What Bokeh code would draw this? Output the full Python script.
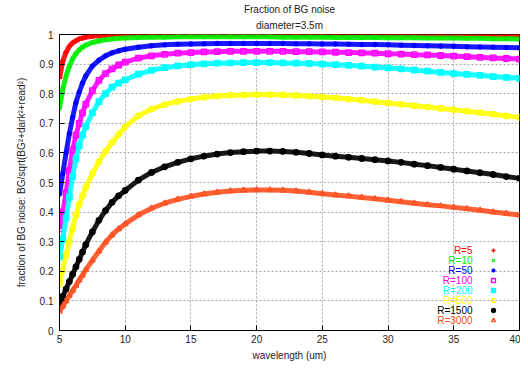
from bokeh.plotting import figure
from bokeh.models import (ColumnDataSource, FixedTicker, Title, Label, Legend, LegendItem, Range1d)
from bokeh.embed import file_html
from bokeh.resources import INLINE

# ---- data ----
wavelength = [5, 5.25, 5.5, 5.75, 6, 6.25, 6.5, 6.75, 7, 7.5, 8, 8.5, 9, 9.5, 10,
              11, 12, 13, 14, 15, 16, 17, 18, 19, 20,
              21, 22, 23, 24, 25, 26, 27, 28, 29, 30,
              31, 32, 33, 34, 35, 36, 37, 38, 39, 40]

r5 = [0.852, 0.910, 0.940, 0.960, 0.972, 0.979, 0.985, 0.988, 0.991, 0.994, 0.996, 0.997, 0.998, 0.998, 0.999,
      0.999, 0.999, 0.999, 0.999, 0.999, 0.999, 0.999, 0.999, 0.999, 0.999,
      0.999, 0.999, 0.999, 0.999, 0.999, 0.999, 0.998, 0.998, 0.998, 0.998,
      0.998, 0.998, 0.998, 0.998, 0.997, 0.997, 0.997, 0.997, 0.997, 0.997]
r10 = [0.750, 0.815, 0.860, 0.893, 0.918, 0.935, 0.948, 0.957, 0.964, 0.973, 0.978, 0.982, 0.985, 0.987, 0.988,
       0.990, 0.991, 0.991, 0.992, 0.992, 0.992, 0.992, 0.992, 0.992, 0.992,
       0.992, 0.991, 0.991, 0.991, 0.991, 0.990, 0.990, 0.990, 0.990, 0.989,
       0.989, 0.989, 0.988, 0.988, 0.988, 0.987, 0.987, 0.986, 0.986, 0.985]
r50 = [0.460, 0.530, 0.600, 0.665, 0.720, 0.770, 0.805, 0.836, 0.860, 0.893, 0.913, 0.928, 0.938, 0.945, 0.950,
       0.957, 0.962, 0.965, 0.967, 0.968, 0.969, 0.970, 0.970, 0.970, 0.970,
       0.970, 0.970, 0.969, 0.969, 0.968, 0.968, 0.967, 0.966, 0.966, 0.965,
       0.964, 0.963, 0.962, 0.961, 0.960, 0.959, 0.958, 0.957, 0.956, 0.955]
r100 = [0.343, 0.400, 0.465, 0.540, 0.610, 0.660, 0.700, 0.735, 0.765, 0.810, 0.845, 0.868, 0.884, 0.897, 0.907,
        0.920, 0.928, 0.933, 0.937, 0.939, 0.941, 0.942, 0.943, 0.943, 0.943,
        0.943, 0.943, 0.942, 0.942, 0.941, 0.940, 0.939, 0.938, 0.937, 0.935,
        0.934, 0.932, 0.931, 0.929, 0.927, 0.925, 0.923, 0.921, 0.919, 0.917]
r200 = [0.248, 0.310, 0.380, 0.450, 0.520, 0.580, 0.625, 0.660, 0.690, 0.735, 0.773, 0.800, 0.822, 0.836, 0.847,
        0.866, 0.879, 0.888, 0.894, 0.898, 0.901, 0.903, 0.904, 0.905, 0.905,
        0.905, 0.904, 0.903, 0.902, 0.900, 0.898, 0.896, 0.893, 0.890, 0.887,
        0.884, 0.880, 0.876, 0.872, 0.868, 0.865, 0.862, 0.858, 0.855, 0.852]
r500 = [0.158, 0.205, 0.255, 0.300, 0.345, 0.390, 0.425, 0.455, 0.483, 0.530, 0.570, 0.605, 0.635, 0.662, 0.688,
        0.725, 0.748, 0.763, 0.774, 0.782, 0.788, 0.792, 0.795, 0.796, 0.797,
        0.797, 0.796, 0.794, 0.792, 0.789, 0.786, 0.782, 0.778, 0.773, 0.768,
        0.764, 0.759, 0.755, 0.750, 0.746, 0.741, 0.736, 0.731, 0.725, 0.720]
r1500 = [0.091, 0.115, 0.140, 0.165, 0.190, 0.215, 0.240, 0.265, 0.290, 0.333, 0.372, 0.405, 0.433, 0.455, 0.473,
         0.508, 0.534, 0.553, 0.568, 0.580, 0.589, 0.596, 0.601, 0.604, 0.606,
         0.606, 0.605, 0.602, 0.598, 0.593, 0.589, 0.585, 0.581, 0.577, 0.573,
         0.568, 0.562, 0.557, 0.551, 0.545, 0.539, 0.533, 0.527, 0.520, 0.514]
r3000 = [0.064, 0.082, 0.100, 0.118, 0.135, 0.152, 0.170, 0.187, 0.205, 0.237, 0.268, 0.298, 0.323, 0.343, 0.360,
         0.390, 0.413, 0.430, 0.443, 0.453, 0.461, 0.467, 0.471, 0.474, 0.475,
         0.475, 0.474, 0.471, 0.467, 0.462, 0.458, 0.454, 0.449, 0.445, 0.440,
         0.435, 0.430, 0.425, 0.421, 0.416, 0.411, 0.406, 0.400, 0.395, 0.390]

series_names = ["R=5", "R=10", "R=50", "R=100", "R=200", "R=500", "R=1500", "R=3000"]
series_values = [r5, r10, r50, r100, r200, r500, r1500, r3000]
series_colors = ["#ff0000", "#00ee00", "#0000ff", "#ff00ff", "#00ffff", "#ffff00", "#000000", "#ff5020"]
series_markers = ["cross", "x", "asterisk", "square", "square", "circle", "circle", "triangle"]
series_filled = [False, False, False, False, True, False, True, False]

x_ticks = [5, 10, 15, 20, 25, 30, 35, 40]
y_ticks = [0, 0.1, 0.2, 0.3, 0.4, 0.5, 0.6, 0.7, 0.8, 0.9, 1]
y_tick_labels = ["0", "0.1", "0.2", "0.3", "0.4", "0.5", "0.6", "0.7", "0.8", "0.9", "1"]

FONT = "Liberation Sans"
TXT = "#222222"

p = figure(width=520, height=363, output_backend="svg", toolbar_location=None,
           x_range=Range1d(5, 40), y_range=Range1d(0, 1), title=None,
           min_border_left=59, min_border_right=1, min_border_top=34, min_border_bottom=31)

p.add_layout(Title(text="diameter=3.5m", align="center", text_font_size="10px",
                   text_font=FONT, text_font_style="normal", text_color=TXT, offset=0,
                   standoff=7), "above")
p.add_layout(Title(text="Fraction of BG noise", align="center", text_font_size="10px",
                   text_font=FONT, text_font_style="normal", text_color=TXT, offset=0,
                   standoff=0), "above")

p.outline_line_color = "black"
p.outline_line_width = 1
p.background_fill_color = "white"
p.border_fill_color = "white"

for ax in (p.xaxis[0], p.yaxis[0]):
    ax.major_tick_in = 5
    ax.major_tick_out = 0
    ax.minor_tick_in = 0
    ax.minor_tick_out = 0
    ax.axis_line_color = "black"
    ax.major_tick_line_color = "black"
    ax.major_label_text_font = FONT
    ax.major_label_text_font_size = "10px"
    ax.major_label_text_color = TXT
    ax.axis_label_text_font = FONT
    ax.axis_label_text_font_size = "10px"
    ax.axis_label_text_font_style = "normal"
    ax.axis_label_text_color = TXT

p.xaxis.ticker = FixedTicker(ticks=x_ticks)
p.yaxis.ticker = FixedTicker(ticks=y_ticks)
p.yaxis.major_label_overrides = {t: s for t, s in zip(y_ticks, y_tick_labels)}
p.xaxis.axis_label = "wavelength (um)"
p.yaxis.axis_label = "fraction of BG noise: BG/sqrt(BG\u00b2+dark\u00b2+read\u00b2)"
p.xaxis.major_label_standoff = 4
p.yaxis.major_label_standoff = 6
p.xaxis.axis_label_standoff = 4
p.yaxis.axis_label_standoff = 10

p.grid.grid_line_color = "#a8a8a8"
p.grid.grid_line_dash = "2 2"
p.grid.grid_line_width = 1
p.xgrid.ticker = FixedTicker(ticks=x_ticks)
p.ygrid.ticker = FixedTicker(ticks=y_ticks)

legend_items = []
for name, vals, col, mk, filled in zip(series_names, series_values, series_colors,
                                       series_markers, series_filled):
    src = ColumnDataSource(dict(x=wavelength, y=vals))
    p.line("x", "y", source=src, line_color=col, line_width=5, line_alpha=0.9)
    r = p.scatter("x", "y", source=src, marker=mk, size=5.5, line_color=col, line_width=1.3,
                  fill_color=col if filled else None)
    legend_items.append(LegendItem(label=" ", renderers=[r]))

# key: coloured names, then symbols (gnuplot style)
row_top = 80
for i, (name, col) in enumerate(zip(series_names, series_colors)):
    p.add_layout(Label(x=413, y=row_top - 10 * i, x_units="screen", y_units="screen",
                       text=name, text_align="right", text_baseline="middle",
                       text_font=FONT, text_font_size="10px", text_color=col))

leg = Legend(items=legend_items, location=(429, 5), glyph_width=10, glyph_height=10,
             label_height=10, label_width=1, label_standoff=0, spacing=0, padding=0, margin=0,
             label_text_font_size="6px", background_fill_alpha=0, border_line_alpha=0)
p.add_layout(leg, "center")

open("out.html", "w").write(file_html(p, INLINE))
